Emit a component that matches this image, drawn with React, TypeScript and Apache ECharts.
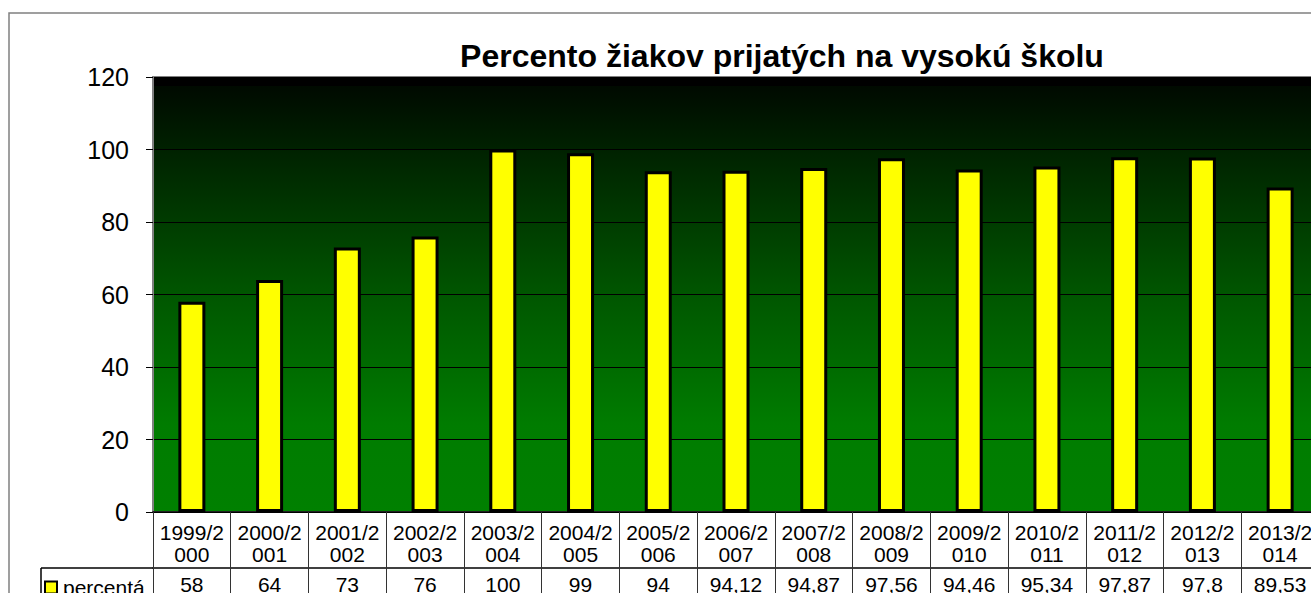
import React, { useEffect, useRef } from "react";
import * as echarts from "echarts";

const categories = [
  "1999/2000", "2000/2001", "2001/2002", "2002/2003", "2003/2004",
  "2004/2005", "2005/2006", "2006/2007", "2007/2008", "2008/2009",
  "2009/2010", "2010/2011", "2011/2012", "2012/2013", "2013/2014",
];
const values = [58, 64, 73, 76, 100, 99, 94, 94.12, 94.87, 97.56, 94.46, 95.34, 97.87, 97.8, 89.53];
const seriesName = "percentá";
const titleText = "Percento žiakov prijatých na vysokú školu";
const yTicks = { min: 0, max: 120, interval: 20 };

const FONT = "'Liberation Sans', Arial, sans-serif";

export default function App() {
  const ref = useRef<HTMLDivElement>(null);
  useEffect(() => {
    if (!ref.current) return;
    const chart = echarts.init(ref.current, null, { renderer: "svg" });
    const W = 1340;
    const H = 640;
    chart.setOption({
      animation: false,
      backgroundColor: "#ffffff",
      textStyle: { fontFamily: FONT },
      grid: {
        left: 153,
        top: 77,
        right: W - 1319,
        bottom: H - 512,
        show: true,
        borderColor: "#808080",
        borderWidth: 2,
        backgroundColor: new echarts.graphic.LinearGradient(0, 0, 0, 1, [
          { offset: 0, color: "#000000" },
          { offset: 0.02, color: "#000000" },
          { offset: 0.021, color: "#000a00" },
          { offset: 0.17, color: "#002200" },
          { offset: 0.5, color: "#005600" },
          { offset: 0.8, color: "#007c00" },
          { offset: 1, color: "#008000" },
        ]),
      },
      legend: {
        left: 44,
        top: 577,
        itemWidth: 12,
        itemHeight: 12,
        itemGap: 4,
        padding: 0,
        icon: "rect",
        itemStyle: { borderColor: "#000", borderWidth: 2 },
        textStyle: { fontSize: 21, color: "#000", fontFamily: FONT, padding: [0, 0, 0, 1] },
        data: [seriesName],
      },
      xAxis: [
        {
          type: "category",
          data: categories,
          position: "bottom",
          axisLine: { show: true, lineStyle: { color: "#000", width: 1.5 } },
          axisTick: { show: true, alignWithLabel: false, length: 90, lineStyle: { color: "#333", width: 1 } },
          axisLabel: {
            interval: 0,
            fontSize: 21,
            lineHeight: 22,
            color: "#000",
            fontFamily: FONT,
            margin: 9,
            formatter: (v: string) => v.slice(0, 6) + "\n" + v.slice(6),
          },
        },
        {
          type: "category",
          data: values.map((v) => String(v).replace(".", ",")),
          position: "bottom",
          offset: 56,
          axisLine: { show: true, lineStyle: { color: "#000", width: 1.5 } },
          axisTick: { show: false },
          axisLabel: { interval: 0, fontSize: 21, color: "#000", fontFamily: FONT, margin: 6 },
        },
      ],
      yAxis: {
        type: "value",
        min: yTicks.min,
        max: yTicks.max,
        interval: yTicks.interval,
        axisLine: { show: true, lineStyle: { color: "#808080", width: 2 } },
        axisTick: { show: true, length: 7, lineStyle: { color: "#000" } },
        axisLabel: { fontSize: 25, color: "#000", fontFamily: FONT, margin: 24 },
        splitLine: { show: true, lineStyle: { color: "#000", width: 1 } },
      },
      series: [
        {
          name: seriesName,
          type: "bar",
          xAxisIndex: 0,
          data: values,
          barWidth: 27,
          itemStyle: { color: "#ffff00", borderColor: "#000", borderWidth: 3 },
        },
      ],
      graphic: [
        {
          type: "rect",
          shape: { x: 9, y: 13, width: 1500, height: 800 },
          style: { fill: "none", stroke: "#808080", lineWidth: 1.5 },
          silent: true,
        },
        {
          type: "text",
          x: 782,
          y: 56,
          style: {
            text: titleText,
            fontSize: 32,
            fontWeight: "bold",
            fontFamily: FONT,
            fill: "#000",
            textAlign: "center",
            textVerticalAlign: "middle",
          },
        },
        {
          type: "line",
          shape: { x1: 41, y1: 568, x2: 153, y2: 568 },
          style: { stroke: "#000", lineWidth: 1.5 },
        },
        {
          type: "line",
          shape: { x1: 41, y1: 568, x2: 41, y2: 640 },
          style: { stroke: "#000", lineWidth: 1.5 },
        },
      ],
    });
    return () => chart.dispose();
  }, []);
  return (
    <div style={{ position: "fixed", left: 0, top: 0, width: 1311, height: 593, overflow: "hidden", background: "#fff" }}>
      <div ref={ref} style={{ position: "absolute", left: 0, top: 0, width: 1340, height: 640 }} />
    </div>
  );
}
